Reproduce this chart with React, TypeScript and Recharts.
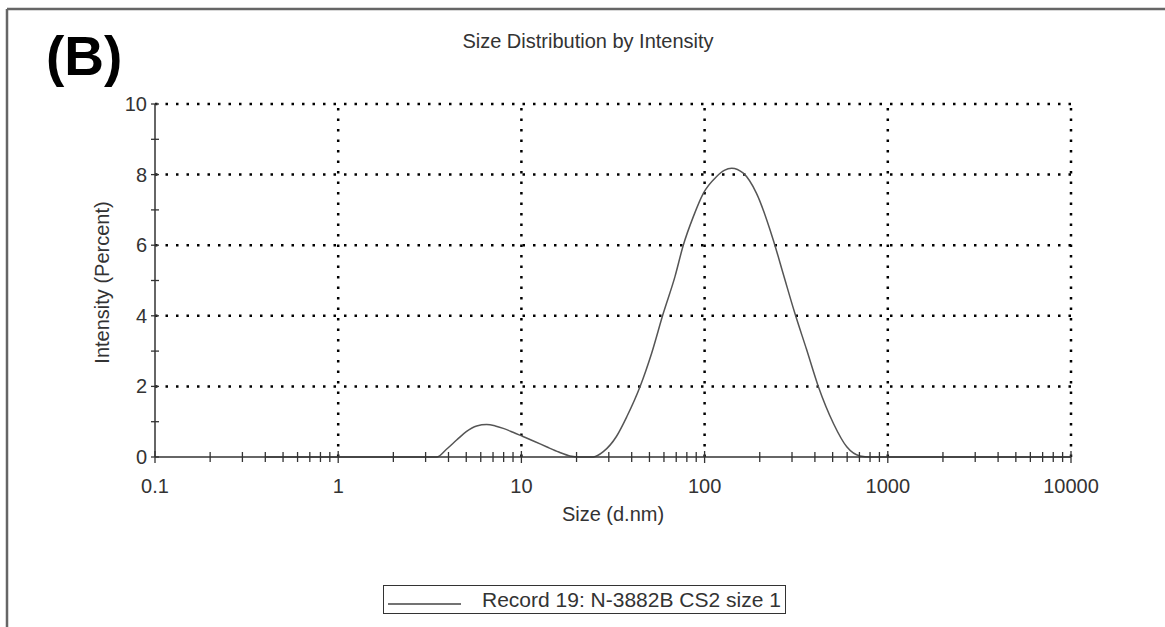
import { LineChart, Line, XAxis, YAxis, ReferenceLine, Legend } from 'recharts';

// Size (d.nm) and intensity (%)
const sizes = [
  0.4, 0.6, 1, 2, 3, 3.45, 3.9, 4.43, 5.0, 5.7, 6.46, 7.2, 7.96, 9.0, 10.2, 11.8, 13.7, 16.0, 18.4,
  21, 24.7, 28, 33, 37.6, 44.4, 51.4, 59.5, 68.9, 76.5, 86.8, 98.4, 116, 128, 140.6, 162.6, 192,
  237, 270, 311, 360, 418, 505, 597, 705, 800, 1000, 2000, 5000, 10000,
];
const intensity = [
  0, 0, 0, 0, 0, 0, 0.22, 0.48, 0.72, 0.88, 0.92, 0.88, 0.81, 0.7, 0.58, 0.44, 0.29, 0.14, 0.03,
  0, 0, 0.15, 0.58, 1.14, 1.99, 2.94, 4.07, 5.11, 6.0, 6.81, 7.47, 7.94, 8.12, 8.18, 8.04, 7.47,
  6.15, 5.15, 4.07, 3.05, 1.99, 0.95, 0.29, 0.03, 0, 0, 0, 0, 0,
];

const xMajorTicks = [0.1, 1, 10, 100, 1000, 10000];
const xMinorTicks = [
  0.2, 0.3, 0.4, 0.5, 0.6, 0.7, 0.8, 0.9,
  2, 3, 4, 5, 6, 7, 8, 9,
  20, 30, 40, 50, 60, 70, 80, 90,
  200, 300, 400, 500, 600, 700, 800, 900,
  2000, 3000, 4000, 5000, 6000, 7000, 8000, 9000,
];
const xGridLines = [1, 10, 100, 1000, 10000];
const yTicks = [0, 1, 2, 3, 4, 5, 6, 7, 8, 9, 10];
const yLabelTicks = [0, 2, 4, 6, 8, 10];
const yGridLines = [2, 4, 6, 8, 10];

const seriesName = 'Record 19: N-3882B CS2 size 1';

const data = sizes.map((s, i) => ({ size: s, intensity: intensity[i] }));

const TEXT = '#333';
const AXIS = '#333';
const FONT = '"Liberation Sans", Arial, sans-serif';

function XTick(props: any) {
  const { x, y, payload } = props;
  const major = xMajorTicks.includes(payload.value);
  const h = major ? 6 : 5;
  return (
    <g>
      <line x1={x} x2={x} y1={y - h} y2={y + h} stroke={AXIS} strokeWidth={1.3} />
      {major && (
        <text x={x} y={y + 36} textAnchor="middle" fontSize={20} fill={TEXT} fontFamily={FONT}>
          {payload.value}
        </text>
      )}
    </g>
  );
}

function YTick(props: any) {
  const { x, y, payload } = props;
  const labeled = yLabelTicks.includes(payload.value);
  return (
    <g>
      <line x1={x - 4} x2={x + 4} y1={y} y2={y} stroke={AXIS} strokeWidth={1.3} />
      {labeled && (
        <text x={x - 8} y={y + 7} textAnchor="end" fontSize={20} fill={TEXT} fontFamily={FONT}>
          {payload.value}
        </text>
      )}
    </g>
  );
}

function LegendBox() {
  return (
    <div
      style={{
        boxSizing: 'border-box',
        width: 403,
        height: 29,
        border: '1.5px solid #333',
        display: 'flex',
        alignItems: 'center',
        fontFamily: FONT,
        fontSize: 21,
        color: TEXT,
        background: '#fff',
      }}
    >
      <svg width={98} height={20} style={{ flex: 'none' }}>
        <line x1={4} x2={77} y1={14} y2={14} stroke="#444" strokeWidth={1.5} />
      </svg>
      <span style={{ whiteSpace: 'nowrap' }}>{seriesName}</span>
    </div>
  );
}

export default function App() {
  return (
    <div style={{ position: 'absolute', left: 0, top: 0, width: 1165, height: 627, background: '#fff' }}>
      <LineChart
        width={1165}
        height={627}
        data={data}
        margin={{ top: 104, right: 94, bottom: 110, left: 95 }}
        style={{ fontFamily: FONT }}
      >
        {xGridLines.map((v) => (
          <ReferenceLine key={'x' + v} x={v} stroke="#000" strokeWidth={2.5} strokeDasharray="2.5 8" />
        ))}
        {yGridLines.map((v) => (
          <ReferenceLine key={'y' + v} y={v} stroke="#000" strokeWidth={2.5} strokeDasharray="2.5 8" />
        ))}
        <XAxis
          dataKey="size"
          type="number"
          scale="log"
          domain={[0.1, 10000]}
          allowDataOverflow
          ticks={[...xMajorTicks, ...xMinorTicks].sort((a, b) => a - b)}
          interval={0}
          height={60}
          tickSize={0}
          tickMargin={0}
          tickLine={false}
          tick={<XTick />}
          axisLine={{ stroke: AXIS, strokeWidth: 1.5 }}
          label={{ value: 'Size (d.nm)', position: 'bottom', offset: -10, fontSize: 20, fill: TEXT }}
        />
        <YAxis
          type="number"
          domain={[0, 10]}
          ticks={yTicks}
          interval={0}
          width={60}
          tickSize={0}
          tickMargin={0}
          tickLine={false}
          tick={<YTick />}
          axisLine={{ stroke: AXIS, strokeWidth: 1.5 }}
          label={{
            content: (p: any) => {
              const vb = p.viewBox || { x: 95, y: 104, width: 60, height: 353 };
              const cx = vb.x + vb.width - 53;
              const cy = vb.y + vb.height / 2 + 2;
              return (
                <text
                  x={cx}
                  y={cy}
                  transform={`rotate(-90 ${cx} ${cy})`}
                  textAnchor="middle"
                  dominantBaseline="central"
                  fontSize={20}
                  fill={TEXT}
                  fontFamily={FONT}
                >
                  Intensity (Percent)
                </text>
              );
            },
          }}
        />
        <Line
          type="monotone"
          dataKey="intensity"
          name={seriesName}
          stroke="#555"
          strokeWidth={1.5}
          dot={false}
          isAnimationActive={false}
        />
        <Legend
          layout="horizontal"
          verticalAlign="middle"
          align="center"
          wrapperStyle={{ left: 383, top: 585, width: 403, height: 29 }}
          content={() => <LegendBox />}
        />
      </LineChart>
      <svg
        width={1165}
        height={627}
        style={{ position: 'absolute', left: 0, top: 0, pointerEvents: 'none' }}
      >
        <line x1={7} x2={1165} y1={9} y2={9} stroke="#666" strokeWidth={2.5} />
        <line x1={7} x2={7} y1={9} y2={627} stroke="#666" strokeWidth={2.5} />
        <text x={588} y={48} textAnchor="middle" fontSize={20} fill={TEXT} fontFamily={FONT}>
          Size Distribution by Intensity
        </text>
        <text x={46} y={75} fontSize={55} fontWeight="bold" fill="#000" fontFamily={FONT}>
          (B)
        </text>
      </svg>
    </div>
  );
}
